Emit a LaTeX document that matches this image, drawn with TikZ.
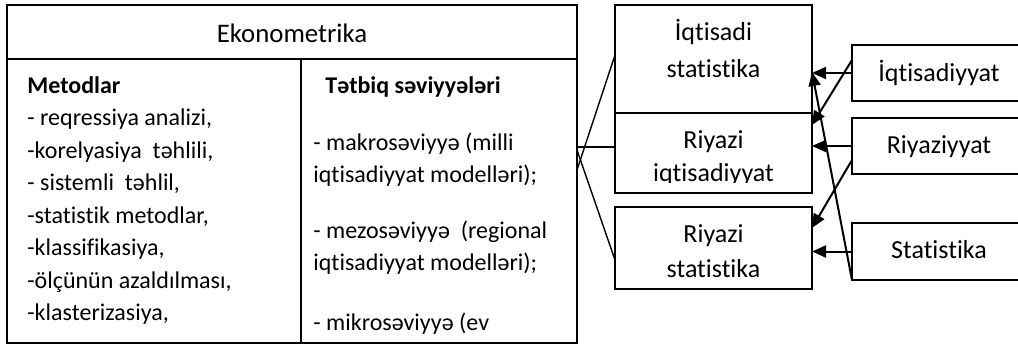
\documentclass[tikz,border=0pt]{standalone}
\usepackage{fontspec}
\setmainfont{Carlito}[Ligatures=NoCommon]
\usetikzlibrary{arrows.meta,calc}
\tikzset{>={Triangle[length=7pt,width=6pt]},
  every node/.style={font=\fontsize{13}{15}\selectfont},
  cell/.style={draw,line width=.75pt,inner sep=0pt,outer sep=0pt},
  item/.style={anchor=base west,inner sep=0pt,font=\fontsize{12}{14}\selectfont},
  word/.style={anchor=base,inner sep=0pt},
  link/.style={line width=.7pt},
  feed/.style={->,line width=1pt}}
\begin{document}
\begin{tikzpicture}[x=.5pt,y=-.5pt]
\useasboundingbox (0,0) rectangle (1018,348);
% table
\node[cell,minimum width=285pt,minimum height=27pt] (hdr) at (292,32) {};
\node[cell,minimum width=147pt,minimum height=142pt] (met) at (154,201) {};
\node[cell,minimum width=138pt,minimum height=142pt] (lev) at (439,201) {};
\node[word,font=\fontsize{13.4}{15}\selectfont] (hdrt) at (292,42) {Ekonometrika};
\node[item,font=\fontsize{12}{14}\bfseries] (m0) at (27,93) {Metodlar};
\foreach \t [count=\i] in {{- reqressiya analizi,},{-korelyasiya \ təhlili,},{- sistemli \ təhlil,},
  {-statistik metodlar,},{-klassifikasiya,},{-ölçünün azaldılması,},{-klasterizasiya,}}
  \node[item] (m\i) at (27,93+32.5*\i) {\t};
\node[item,font=\fontsize{12}{14}\bfseries] (l0) at (325,93) {Tətbiq səviyyələri};
\foreach \y/\t [count=\i] in {150/{- makrosəviyyə (milli},182/{iqtisadiyyat modelləri);},
  238/{- mezosəviyyə \ (regional},270/{iqtisadiyyat modelləri);},330/{- mikrosəviyyə (ev}}
  \node[item] (l\i) at (313,\y) {\t};
% sciences
\node[cell,minimum width=98.5pt,minimum height=54pt] (box1) at (713.5,59) {};
\node[cell,minimum width=98.5pt,minimum height=40pt] (box2) at (713.5,153) {};
\node[cell,minimum width=98.5pt,minimum height=41pt] (box3) at (713.5,248) {};
\node[word] (b1a) at (713.5,40) {İqtisadi};
\node[word] (b1b) at (713.5,77) {statistika};
\node[word] (b2a) at (713.5,148) {Riyazi};
\begin{scope}
\clip (615,113) rectangle (812,182);
\node[word] (b2b) at (713.5,181) {iqtisadiyyat};
\end{scope}
\node[word] (b3a) at (713.5,242) {Riyazi};
\node[word] (b3b) at (713.5,277) {statistika};
% sources
\node[cell,minimum width=87pt,minimum height=28pt] (iq) at (939,73) {};
\node[cell,minimum width=87pt,minimum height=28pt] (riy) at (939,146) {};
\node[cell,minimum width=87pt,minimum height=28.5pt] (stat) at (939,251.5) {};
\node[word] (iqt) at (939,81) {İqtisadiyyat};
\node[word] (riyt) at (939,153) {Riyaziyyat};
\node[word] (statt) at (939,258) {Statistika};
% links
\draw[link] ($(lev.east)+(0,-31)$) -- ($(box1.west)+(0,-4)$);
\draw[link] ($(lev.east)+(0,-54)$) -- ($(box2.west)+(0,-6)$);
\draw[link] ($(lev.east)+(0,-51)$) -- ($(box3.west)+(0,12)$);
\draw[feed] (iq.west) -- (box1.east |- iq.west);
\draw[feed] (riy.west) -- (box2.east |- riy.west);
\draw[feed] (stat.west) -- (box3.east |- stat.west);
\draw[feed] ($(iq.west)+(0,-13)$) -- ($(box2.east)+(0,-28)$);
\draw[feed] ($(riy.west)+(0,14)$) -- ($(box3.east)+(0,-20)$);
\draw[feed] (stat.south west) -- ($(box1.east)+(0,13)$);
\end{tikzpicture}
\end{document}
